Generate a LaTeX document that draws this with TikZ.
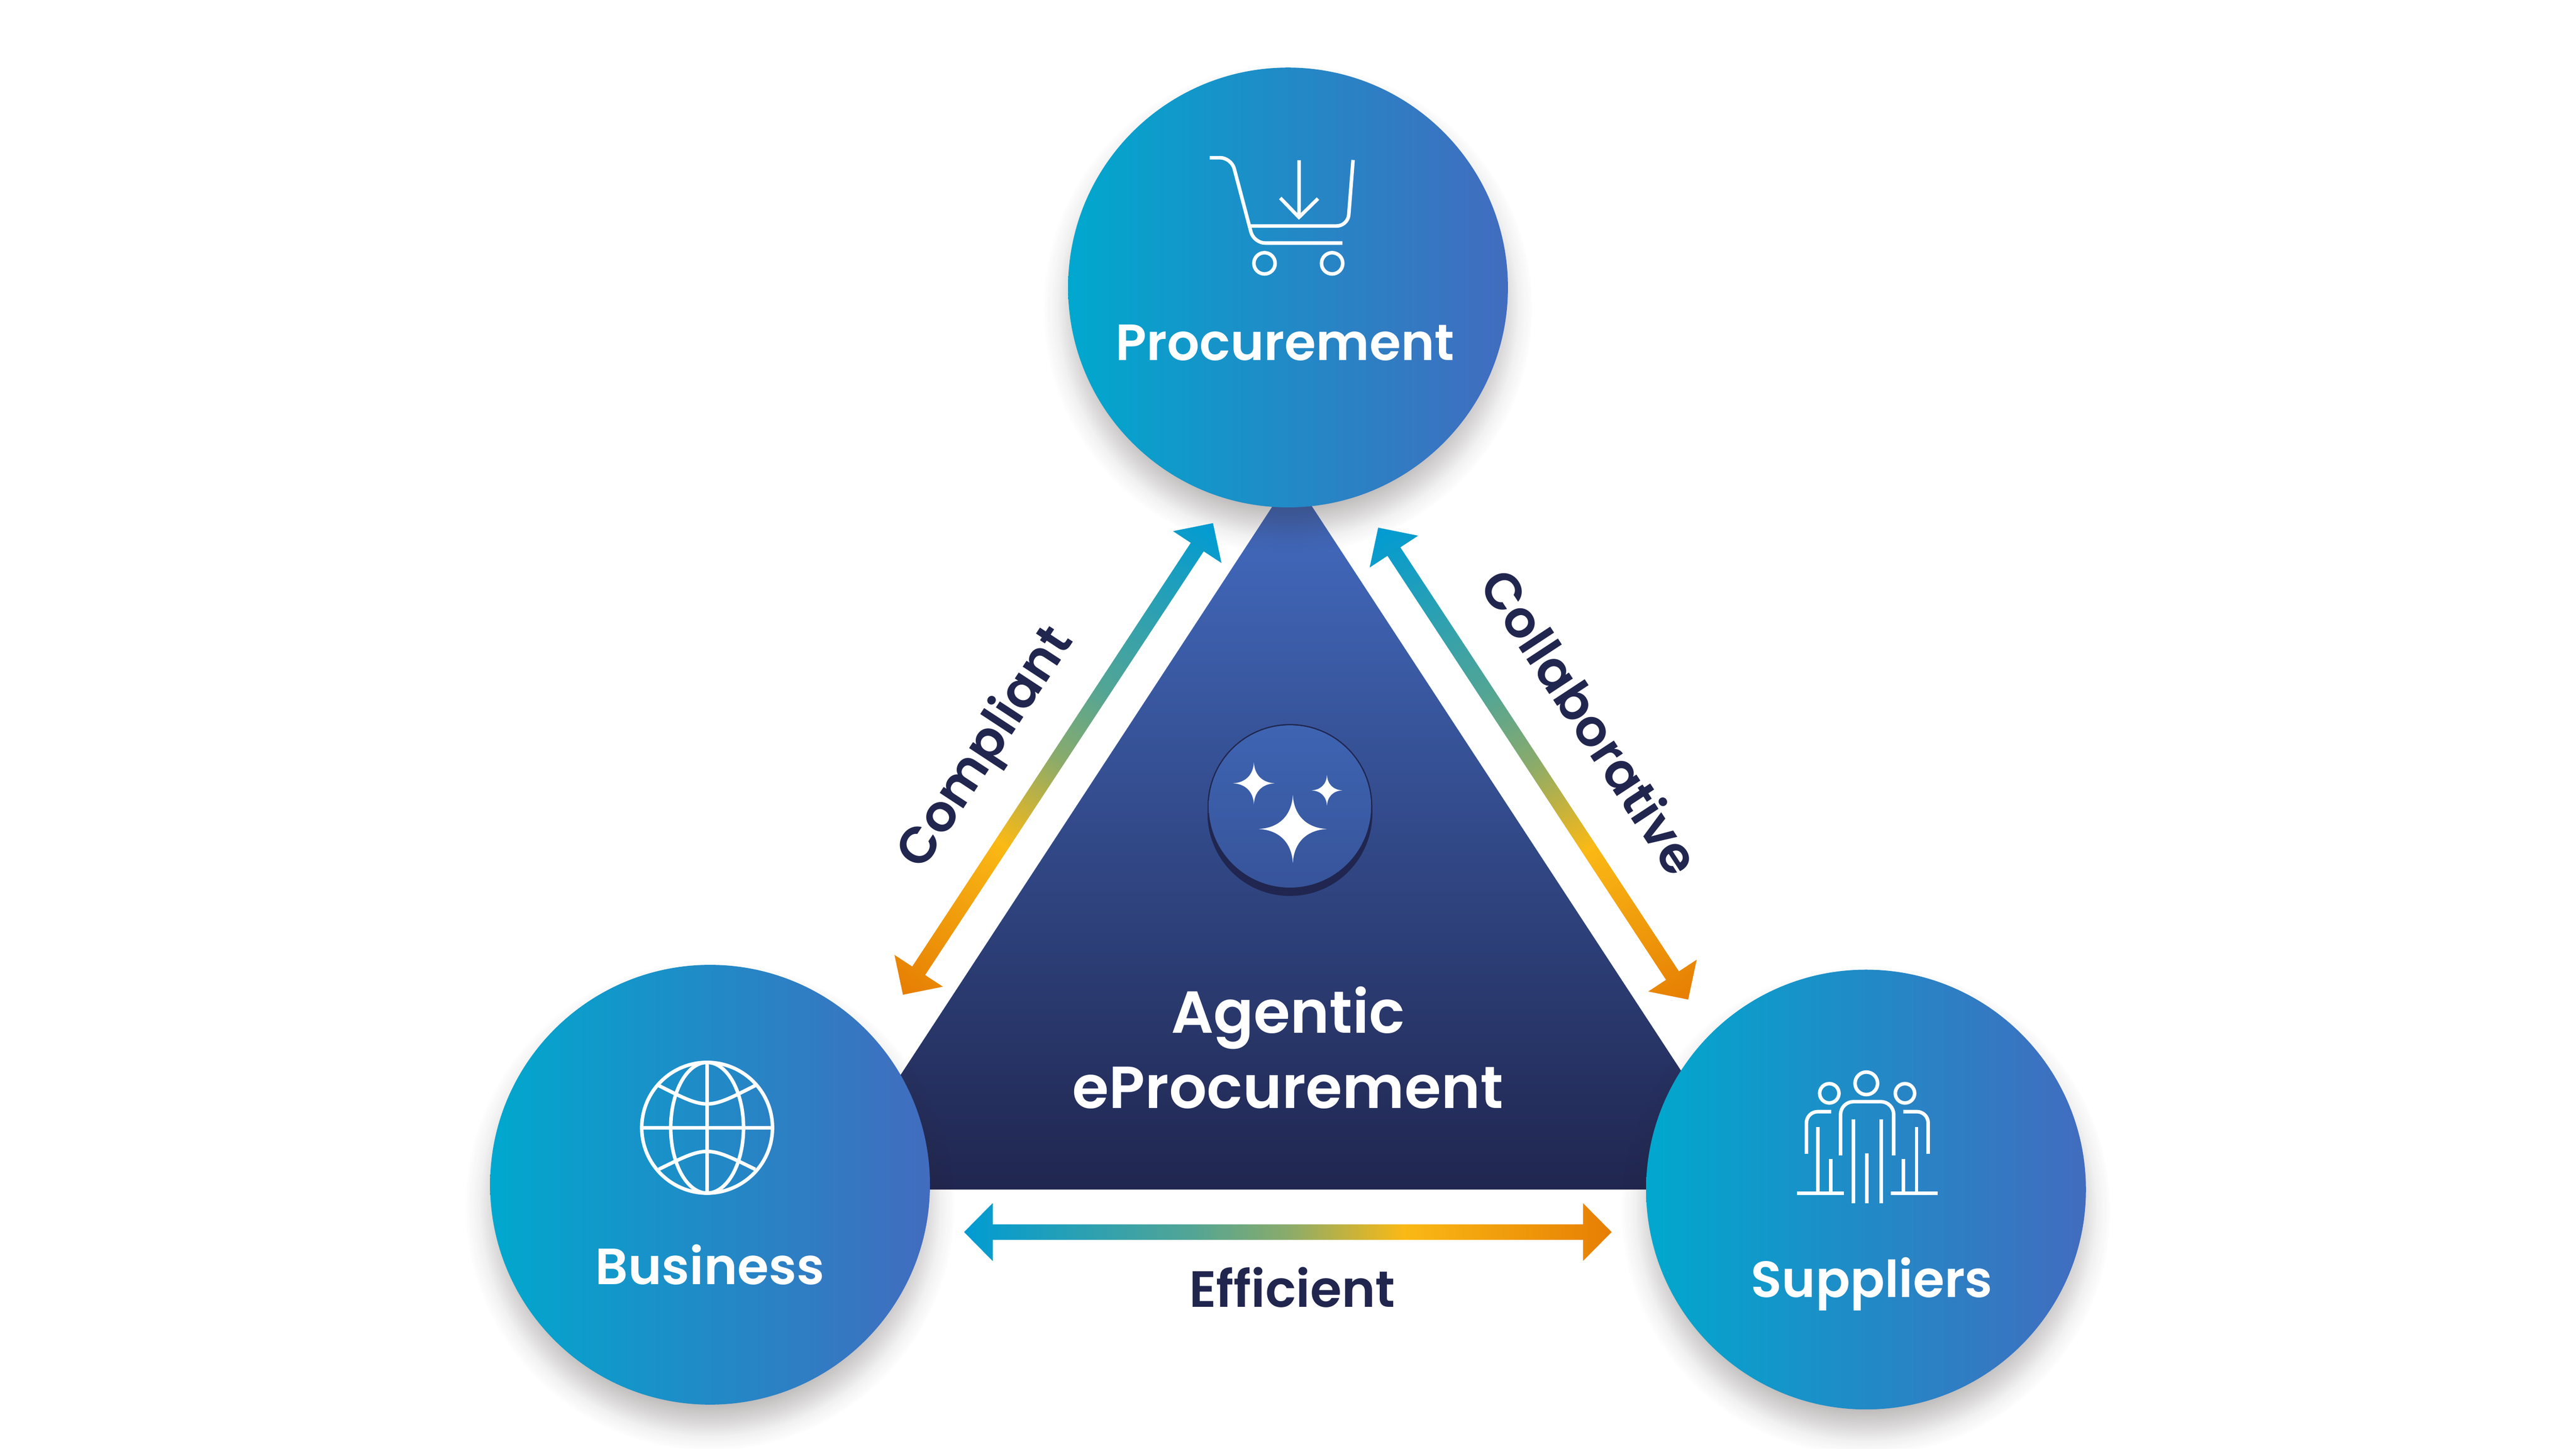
\documentclass[tikz,border=0pt]{standalone}
\usepackage{fontspec}
\setmainfont{Poppins SemiBold}
\usetikzlibrary{calc, fadings}

\definecolor{hubleft}{HTML}{00A8CE}
\definecolor{hubright}{HTML}{426CBF}
\definecolor{triangletop}{HTML}{446DC3}
\definecolor{trianglebottom}{HTML}{20264F}
\definecolor{cointop}{HTML}{3E64B2}
\definecolor{coinbottom}{HTML}{37549A}
\definecolor{inktext}{HTML}{21264F}
\definecolor{arrowblue}{HTML}{009BD3}
\definecolor{arrowteal}{HTML}{52A595}
\definecolor{arrowgreen}{HTML}{8AAB6B}
\definecolor{arrowyellow}{HTML}{FAB915}
\definecolor{arroworange}{HTML}{E67E03}
\definecolor{shadowtone}{HTML}{2E2424}

% 50bp in the middle of this shading cover the length of the arrow
\pgfdeclarehorizontalshading{arrowgrad}{100bp}{
    color(0bp)=(arrowblue); color(25bp)=(arrowblue);
    color(42.5bp)=(arrowteal); color(50bp)=(arrowgreen);
    color(59bp)=(arrowyellow);
    color(75bp)=(arroworange); color(100bp)=(arroworange)}

% soft edge for the shadows, grey level is the opacity
\pgfdeclareradialshading{softshadowgrad}{\pgfpointorigin}{
    color(0bp)=(white!32!black); color(20bp)=(white!32!black);
    color(22bp)=(white!18!black); color(23.5bp)=(white!6!black);
    color(25bp)=(black); color(50bp)=(black)}
\pgfdeclarefading{softshadow}{\pgfuseshading{softshadowgrad}}

\tikzset{
    hub/.style={circle, minimum size=13.66cm, inner sep=0pt, left color=hubleft, right color=hubright},
    hubshadow/.style={fill=shadowtone, path fading=softshadow},
    hublabel/.style={anchor=base, inner sep=0pt, text=white, font=\fontsize{45}{55}\selectfont},
    centerlabel/.style={anchor=base, inner sep=0pt, text=white, font=\fontsize{52.4}{66}\selectfont},
    sidelabel/.style={anchor=base, inner sep=0pt, text=inktext, font=\fontsize{45}{55}\selectfont},
    iconline/.style={draw=white, line width=.11cm}
}

% double arrow with its colours running along it, from end #1 to end #2
\newcommand\gradarrow[2]{
    \path let \p1=($(#2)-(#1)$) in \pgfextra{
        \pgfmathsetmacro\arrowlen{veclen(\x1,\y1)/28.45274}
        \pgfmathsetmacro\arrowang{atan2(\y1,\x1)}
        \xdef\arrowlen{\arrowlen}\xdef\arrowang{\arrowang}};
    \begin{scope}[transform canvas={shift={(#1)}, rotate=\arrowang}]
        \path[shading=arrowgrad]
            (0,0) -- (.89,.9) -- (.89,.24) -- ({\arrowlen-.89},.24) -- ({\arrowlen-.89},.9)
            -- (\arrowlen,0) -- ({\arrowlen-.89},-.9) -- ({\arrowlen-.89},-.24) -- (.89,-.24) -- (.89,-.9) -- cycle;
    \end{scope}
}

% four pointed star at (#1,#2) of radius #3
\newcommand\sparkle[3]{
    \fill[white, shift={(#1,#2)}, scale=#3]
        (0,1) .. controls (.03,.4) and (.4,.03) .. (1,0)
        .. controls (.4,-.03) and (.03,-.4) .. (0,-1)
        .. controls (-.03,-.4) and (-.4,-.03) .. (-1,0)
        .. controls (-.4,.03) and (-.03,.4) .. (0,1) -- cycle;
}

\begin{document}
\begin{tikzpicture}
    \useasboundingbox[fill=white] (0,0) rectangle (80,45);

    % Triangle in the middle
    \coordinate (apex) at (40.13,30.21);
    \coordinate (baseleft) at (25.64,8.05);
    \coordinate (baseright) at (54.62,8.05);
    \shade[top color=triangletop, bottom color=trianglebottom] (apex) -- (baseright) -- (baseleft) -- cycle;

    % Coin with the stars
    \fill[trianglebottom] (40.06,19.95) circle (2.56);
    \fill[trianglebottom] (40.06,19.73) circle (2.56);
    \shade[top color=cointop, bottom color=coinbottom] (40.06,19.95) circle (2.52);
    \sparkle{38.94}{20.67}{.65}
    \sparkle{41.21}{20.45}{.48}
    \sparkle{40.15}{19.25}{1.06}

    \node[centerlabel] (agentic) at (40.00,12.91) {Agentic};
    \node[centerlabel] (eprocurement) at (40.00,10.58) {eProcurement};

    % The three circles
    \foreach \hubx/\huby in {40.00/36.07, 22.05/8.20, 57.95/8.05}
        \path[hubshadow] (\hubx,\huby-.65) circle (7.6);
    \node[hub] (procurement) at (40.00,36.07) {};
    \node[hub] (business) at (22.05,8.20) {};
    \node[hub] (suppliers) at (57.95,8.05) {};

    \node[hublabel] (procurementlabel) at (39.91,33.81) {Procurement};
    \node[hublabel] (businesslabel) at (22.05,5.10) {Business};
    \node[hublabel] (supplierslabel) at (58.13,4.71) {Suppliers};

    % Cart
    \draw[iconline, rounded corners=.35cm] (37.57,40.10) -- (38.24,40.10) -- (38.94,37.45) -- (41.69,37.45);
    \draw[iconline, rounded corners=.35cm] (38.80,37.98) -- (41.86,37.98) -- (42.02,40.03);
    \draw[iconline] (40.34,40.03) -- (40.34,38.25);
    \draw[iconline] (39.76,38.85) -- (40.34,38.25) -- (40.93,38.83);
    \draw[iconline] (39.27,36.82) circle (.33);
    \draw[iconline] (41.37,36.82) circle (.33);

    % Globe
    \draw[iconline] (21.96,9.97) circle (2.03);
    \draw[iconline] (21.96,9.97) ellipse (1.13 and 2.03);
    \draw[iconline] (21.96,12.00) -- (21.96,7.94);
    \draw[iconline] (19.93,9.97) -- (23.99,9.97);
    \draw[iconline] (20.46,11.28) .. controls (21.96,10.52) .. (23.45,11.28);
    \draw[iconline] (20.46,8.68) .. controls (21.96,9.42) .. (23.45,8.68);

    % People
    \draw[iconline] (57.96,11.35) circle (.35);
    \draw[iconline] (56.81,11.04) circle (.30);
    \draw[iconline] (59.16,11.04) circle (.30);
    \draw[iconline, rounded corners=.4cm] (57.16,9.11) -- (57.16,10.78) -- (58.81,10.78) -- (58.81,9.11);
    \draw[iconline, rounded corners=.35cm] (56.87,10.47) -- (56.10,10.47) -- (56.10,9.16);
    \draw[iconline, rounded corners=.35cm] (59.11,10.47) -- (59.88,10.47) -- (59.88,9.16);
    \foreach \legx in {57.56, 58.42}
        \draw[iconline] (\legx,10.23) -- (\legx,7.62);
    \draw[iconline] (57.98,9.17) -- (57.98,7.62);
    \draw[iconline] (56.45,9.99) -- (56.45,7.93);
    \draw[iconline] (56.86,9.00) -- (56.86,7.93);
    \draw[iconline] (59.52,9.99) -- (59.52,7.93);
    \draw[iconline] (59.11,9.00) -- (59.11,7.93);
    \draw[iconline] (55.81,7.93) -- (57.26,7.93);
    \draw[iconline] (58.72,7.93) -- (60.17,7.93);

    % Arrows between the circles
    \coordinate (compliantbottom) at (28.04,14.10);
    \coordinate (complianttop) at (37.67,28.75);
    \coordinate (collabtop) at (42.80,28.61);
    \coordinate (collabbottom) at (52.43,13.95);
    \coordinate (efficientleft) at (29.94,6.73);
    \coordinate (efficientright) at (50.05,6.73);
    \gradarrow{complianttop}{compliantbottom}
    \gradarrow{collabtop}{collabbottom}
    \gradarrow{efficientleft}{efficientright}

    \node[sidelabel, rotate=56.7] (compliant) at (31.00,21.52) {Compliant};
    \node[sidelabel, rotate=-56.7] (collaborative) at (48.90,22.26) {Collaborative};
    \node[sidelabel] (efficient) at (40.13,4.40) {Efficient};
\end{tikzpicture}
\end{document}
